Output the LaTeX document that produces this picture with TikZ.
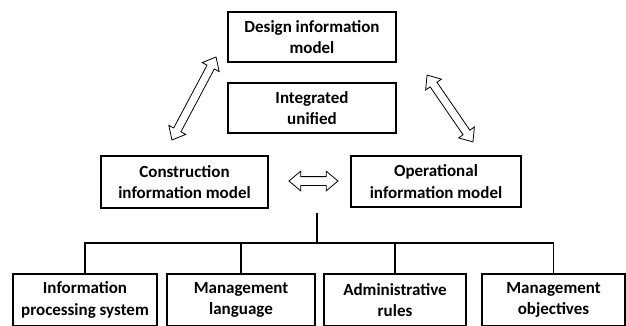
\documentclass[tikz,border=0pt]{standalone}
\usepackage{fontspec}
\setmainfont{Carlito}
\usetikzlibrary{shapes.arrows}
\usetikzlibrary{positioning}

\begin{document}
\begin{tikzpicture}[x=1pt, y=-1pt]
    \tikzset{box/.style={draw, line width=1.2pt, align=center, inner sep=0pt,
                font=\fontsize{17}{21.5}\selectfont\bfseries},
             dblarrow/.style={draw, line width=0.8pt, double arrow, inner xsep=0pt,
                inner ysep=3.7pt, minimum width=0pt, double arrow head extend=5.5pt,
                double arrow tip angle=80},
             link/.style={draw=black, line width=1.2pt}}
    \useasboundingbox (0,0) rectangle (626,325);
    \clip (0,0) rectangle (626,325);
    % models
    \node[box, minimum width=168pt, minimum height=50pt] (design) at (312,37) {Design information\\model};
    \node[box, minimum width=168pt, minimum height=50pt] (integ) at (312,108) {Integrated\\unified};
    \node[box, minimum width=167pt, minimum height=52pt] (constr) at (184.5,182) {Construction\\information model};
    \node[box, minimum width=170pt, minimum height=51pt] (oper) at (436,181.5) {Operational\\information model};
    % exchange arrows
    \node[dblarrow, minimum height=94pt, rotate=62] (a1) at (194,98.5) {};
    \node[dblarrow, minimum height=81pt, rotate=-55.5] (a2) at (450,108.5) {};
    \node[dblarrow, minimum height=49pt, inner ysep=4pt] (a3) at (313.5,181) {};
    % management
    \node[box, minimum width=144pt, minimum height=52pt] (b1) at (85,300) {Information\\processing system};
    \node[box, minimum width=148pt, minimum height=52pt] (b2) at (241,300) {Management\\language};
    \node[box, minimum width=142pt, minimum height=52pt] (b3) at (395,300) {Administrative\\rules};
    \node[box, minimum width=143pt, minimum height=52pt] (b4) at (553.5,300) {Management\\objectives};
    \coordinate (stem) at (317,213);
    \coordinate (bus) at (317,243);
    \path[link] (stem) -- (bus);
    \path[link] (bus) -| (b1.north);
    \path[link] (bus) -| (b2.north);
    \path[link] (bus) -| (b3.north);
    \path[link] (bus) -| (b4.north);
\end{tikzpicture}
\end{document}
